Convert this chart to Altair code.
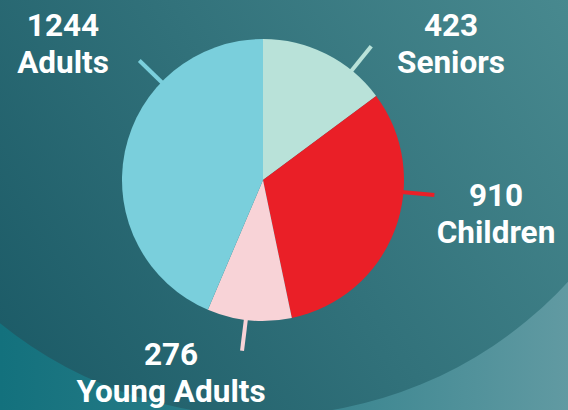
import math
import altair as alt
import pandas as pd

# ---- data ----
categories = ["Seniors", "Children", "Young Adults", "Adults"]
counts = [423, 910, 276, 1244]
slice_colors = ["#b9e2d9", "#ea1f27", "#f8d3d7", "#7acfdc"]

# ---- label layout (pixel placement of callouts) ----
tick_angle_deg = [39, 95, 187, 314]
label_cx = [451, 496, 171, 63]
label_base = [36, 206, 365, 36]

W, H = 568, 410
CX, CY, R = 263, 180, 141
R_TICK = 172
LINE_GAP = 37

pie_df = pd.DataFrame({"category": categories, "count": counts, "idx": range(len(categories))})

rows = []
for c, n, a, lx, lb in zip(categories, counts, tick_angle_deg, label_cx, label_base):
    rad = math.radians(a)
    rows.append({
        "category": c, "label": f"{n}\n{c}",
        "x1": CX + (R - 2) * math.sin(rad), "y1": CY - (R - 2) * math.cos(rad),
        "x2": CX + R_TICK * math.sin(rad), "y2": CY - R_TICK * math.cos(rad),
        "lx": lx, "ly": lb,
    })
lab_df = pd.DataFrame(rows)

color_scale = alt.Scale(domain=categories, range=slice_colors)
one = pd.DataFrame({"k": [0]})

# background: outer (lighter) area
outer_bg = alt.Chart(one).mark_rect(
    color=alt.Gradient(
        gradient="linear", x1=0, y1=0.5, x2=1, y2=0.5,
        stops=[alt.GradientStop(color="#13717d", offset=0),
               alt.GradientStop(color="#2e7f8a", offset=0.45),
               alt.GradientStop(color="#619aa2", offset=1)],
    )
).encode(x=alt.value(0), x2=alt.value(W), y=alt.value(0), y2=alt.value(H))

# big dark disk
disk = alt.Chart(one).mark_arc(
    radius=416, clip=True,
    color=alt.Gradient(
        gradient="linear", x1=0.87, y1=0.5, x2=0.18, y2=0.95,
        stops=[alt.GradientStop(color="#48898f", offset=0),
               alt.GradientStop(color="#1b5a66", offset=1)],
    ),
).encode(x=alt.value(262), y=alt.value(0), theta=alt.value(0), theta2=alt.value(2 * math.pi))

pie = alt.Chart(pie_df).mark_arc(radius=R, stroke=None).encode(
    theta=alt.Theta("count:Q", stack=True),
    color=alt.Color("category:N", scale=color_scale, legend=None),
    order=alt.Order("idx:Q"),
    x=alt.value(CX), y=alt.value(CY),
)

ticks = alt.Chart(lab_df).mark_rule(strokeWidth=4, strokeCap="butt").encode(
    x=alt.X("x1:Q", scale=None, axis=None), y=alt.Y("y1:Q", scale=None, axis=None),
    x2="x2:Q", y2="y2:Q",
    color=alt.Color("category:N", scale=color_scale, legend=None),
)

labels = alt.Chart(lab_df).mark_text(
    font="Roboto", fontWeight="bold", fontSize=31.5, color="white",
    align="center", baseline="alphabetic", lineBreak="\n", lineHeight=LINE_GAP,
).encode(x=alt.X("lx:Q", scale=None), y=alt.Y("ly:Q", scale=None), text="label:N")

chart = alt.layer(outer_bg, disk, pie, ticks, labels).properties(
    width=W, height=H, padding=0, autosize=alt.AutoSizeParams(type="none"),
    background="#1b5a66",
).configure_view(stroke=None)

chart.save("out.html", embed_options={"renderer": "svg", "actions": False})
